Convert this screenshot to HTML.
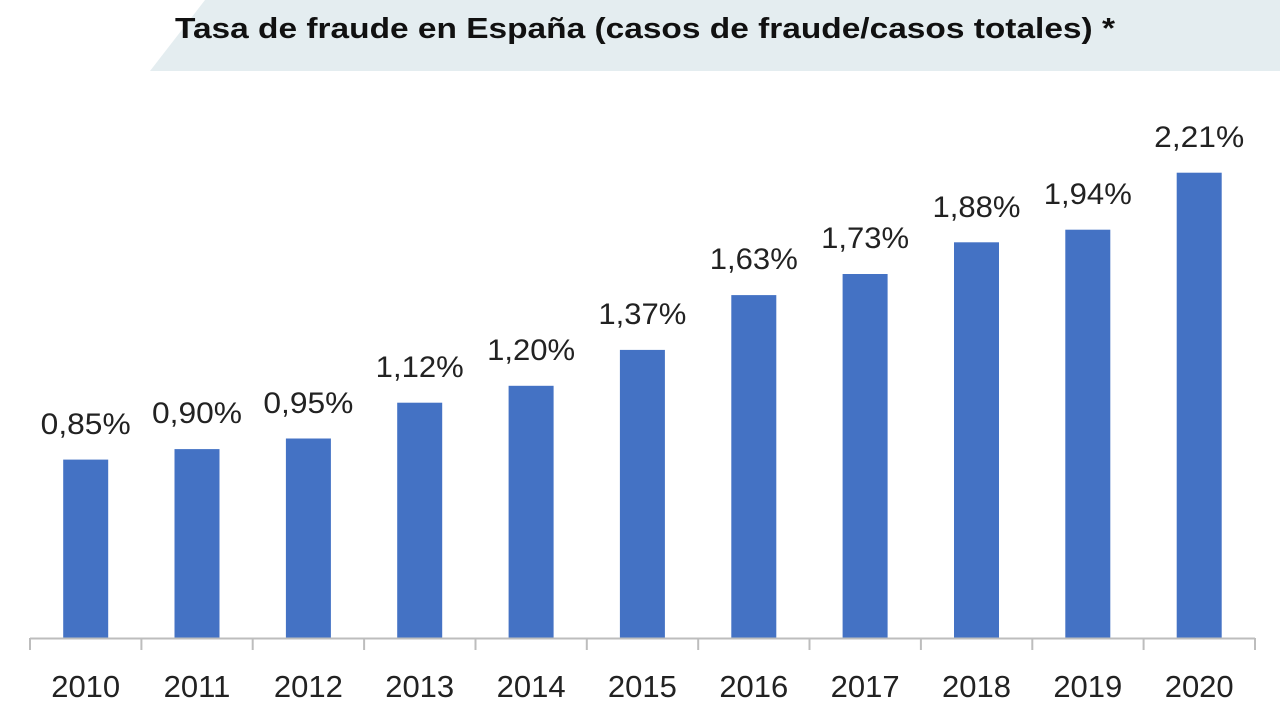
<!DOCTYPE html>
<html><head><meta charset="utf-8"><style>
body{margin:0;background:#fff;}
svg{display:block;}
text{font-family:"Liberation Sans","DejaVu Sans",sans-serif;fill:#222;}
</style></head><body>
<svg width="1280" height="720" viewBox="0 0 1280 720">
<polygon points="205,0 1280,0 1280,71 150,71" fill="#e4edf0"/>
<text x="175" y="38" font-size="29" font-weight="bold" style="fill:#111" textLength="940" lengthAdjust="spacingAndGlyphs">Tasa de fraude en España (casos de fraude/casos totales) *</text>
<g fill="#4472c4">
<rect x="63.2" y="459.6" width="45" height="179.4"/>
<rect x="174.5" y="449.1" width="45" height="189.9"/>
<rect x="285.9" y="438.5" width="45" height="200.5"/>
<rect x="397.2" y="402.7" width="45" height="236.3"/>
<rect x="508.6" y="385.8" width="45" height="253.2"/>
<rect x="619.9" y="349.9" width="45" height="289.1"/>
<rect x="731.3" y="295.1" width="45" height="343.9"/>
<rect x="842.6" y="274.0" width="45" height="365.0"/>
<rect x="954.0" y="242.3" width="45" height="396.7"/>
<rect x="1065.3" y="229.7" width="45" height="409.3"/>
<rect x="1176.7" y="172.7" width="45" height="466.3"/>
</g>
<g font-size="30" text-anchor="middle">
<text x="85.7" y="434" textLength="90" lengthAdjust="spacingAndGlyphs">0,85%</text>
<text x="197.0" y="423" textLength="90" lengthAdjust="spacingAndGlyphs">0,90%</text>
<text x="308.4" y="413" textLength="90" lengthAdjust="spacingAndGlyphs">0,95%</text>
<text x="419.7" y="377" textLength="88" lengthAdjust="spacingAndGlyphs">1,12%</text>
<text x="531.1" y="360" textLength="88" lengthAdjust="spacingAndGlyphs">1,20%</text>
<text x="642.4" y="324" textLength="88" lengthAdjust="spacingAndGlyphs">1,37%</text>
<text x="753.8" y="269" textLength="88" lengthAdjust="spacingAndGlyphs">1,63%</text>
<text x="865.1" y="248" textLength="88" lengthAdjust="spacingAndGlyphs">1,73%</text>
<text x="976.5" y="217" textLength="88" lengthAdjust="spacingAndGlyphs">1,88%</text>
<text x="1087.8" y="204" textLength="88" lengthAdjust="spacingAndGlyphs">1,94%</text>
<text x="1199.2" y="147" textLength="90" lengthAdjust="spacingAndGlyphs">2,21%</text>
</g>
<line x1="30" y1="638.5" x2="1255" y2="638.5" stroke="#bdbdbd" stroke-width="2"/>
<g stroke="#bdbdbd" stroke-width="2">
<line x1="30" y1="638" x2="30" y2="650"/><line x1="141.4" y1="638" x2="141.4" y2="650"/><line x1="252.7" y1="638" x2="252.7" y2="650"/><line x1="364.1" y1="638" x2="364.1" y2="650"/><line x1="475.5" y1="638" x2="475.5" y2="650"/><line x1="586.8" y1="638" x2="586.8" y2="650"/><line x1="698.2" y1="638" x2="698.2" y2="650"/><line x1="809.5" y1="638" x2="809.5" y2="650"/><line x1="920.9" y1="638" x2="920.9" y2="650"/><line x1="1032.3" y1="638" x2="1032.3" y2="650"/><line x1="1143.6" y1="638" x2="1143.6" y2="650"/><line x1="1255" y1="638" x2="1255" y2="650"/>
</g>
<g font-size="31" text-anchor="middle">
<text x="85.7" y="697">2010</text><text x="197.0" y="697">2011</text><text x="308.4" y="697">2012</text><text x="419.7" y="697">2013</text><text x="531.1" y="697">2014</text><text x="642.4" y="697">2015</text><text x="753.8" y="697">2016</text><text x="865.1" y="697">2017</text><text x="976.5" y="697">2018</text><text x="1087.8" y="697">2019</text><text x="1199.2" y="697">2020</text>
</g>
</svg>
</body></html>
